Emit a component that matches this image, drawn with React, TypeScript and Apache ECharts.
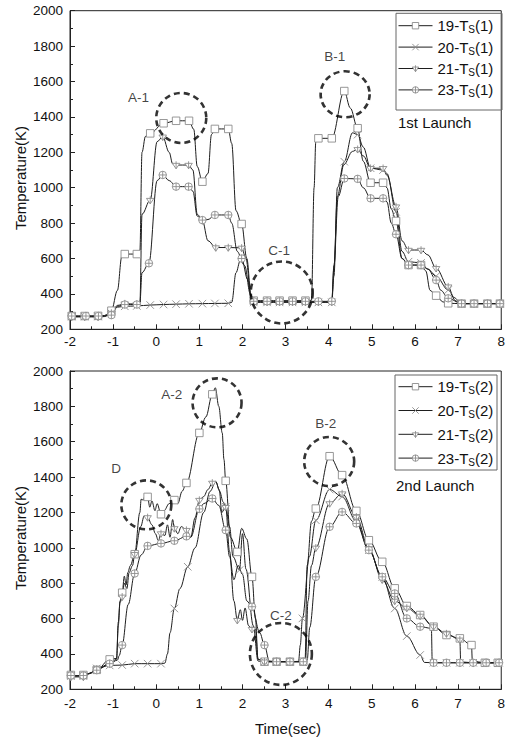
import React, { useEffect, useRef } from 'react';
import * as echarts from 'echarts';

type Pt = [number, number];

const FONT = '"Liberation Sans", Arial, Helvetica, sans-serif';

// ---- x / y axis ticks ----
const X_MIN = -2;
const X_MAX = 8;
const X_STEP = 1;
const Y_MIN = 200;
const Y_MAX = 2000;
const Y_STEP = 200;

// ---- 1st launch: sampled (marked) points and the trace between them ----
const S19_1_MARKS: Pt[] = [[-1.96,275],[-1.66,275],[-1.35,276],[-1.04,305],[-0.73,625],[-0.45,625],[-0.14,1307],[0.17,1364],[0.46,1378],[0.76,1378],[1.07,1034],[1.36,1332],[1.67,1332],[1.98,795],[2.26,362],[2.57,362],[2.86,362],[3.16,362],[3.46,362],[3.76,1279],[4.07,1279],[4.36,1546],[4.67,1336],[4.97,1028],[5.26,1028],[5.56,812],[5.85,563],[6.14,563],[6.49,390],[6.77,347],[7.08,345],[7.37,345],[7.68,345],[7.97,345]];
const S19_1_TRACE: Pt[] = [[-2,275],[-1.2,278],[-0.9,420],[-0.8,610],[-0.38,640],[-0.33,1200],[-0.25,1290],[0.87,1330],[0.95,1120],[1.2,1080],[1.28,1300],[1.75,1250],[1.85,870],[2.1,600],[2.2,390],[3.6,364],[3.66,1000],[3.7,1260],[4.5,1450],[4.8,1150],[5.35,1000],[5.45,880],[5.7,600],[6.25,530],[6.35,420],[6.65,355]];

const S20_1_MARKS: Pt[] = [[-1.96,272],[-1.66,272],[-1.35,272],[-1.04,290],[-0.73,330],[-0.45,332],[-0.14,337],[0.17,340],[0.46,342],[0.76,344],[1.07,345],[1.36,346],[1.67,347],[2.26,352],[2.57,352],[2.86,352],[3.16,352],[3.46,352],[3.76,352],[4.07,352],[4.36,1147],[4.67,1300],[4.97,1110],[5.26,1100],[5.56,864],[5.85,582],[6.14,575],[6.49,500],[6.77,422],[7.08,345],[7.37,345],[7.68,345],[7.97,345]];
const S20_1_TRACE: Pt[] = [[-2,272],[-1.2,275],[-0.9,325],[1.75,352],[1.85,520],[1.95,590],[2.05,560],[2.18,400],[4.12,500],[4.2,1000],[4.55,1310],[4.8,1230],[5.35,1080],[5.7,640],[6.3,540],[6.95,360]];

const S21_1_MARKS: Pt[] = [[-1.96,270],[-1.66,270],[-1.35,270],[-1.04,292],[-0.73,345],[-0.45,342],[-0.14,930],[0.15,1288],[0.46,1128],[0.75,1128],[1.07,815],[1.38,662],[1.67,662],[1.98,660],[2.26,355],[2.57,355],[2.86,355],[3.16,355],[3.46,355],[3.76,355],[4.07,355],[4.67,1217],[4.97,1110],[5.26,1110],[5.56,893],[5.85,648],[6.14,648],[6.49,545],[6.77,441],[7.08,345],[7.37,345],[7.68,345],[7.97,345]];
const S21_1_TRACE: Pt[] = [[-2,270],[-1.2,272],[-0.9,335],[-0.38,345],[-0.33,850],[0.02,1260],[0.3,1200],[0.38,1135],[0.85,1100],[0.95,850],[1.2,700],[2.08,600],[2.2,380],[4.12,550],[4.2,950],[4.35,1130],[4.55,1205],[4.8,1180],[5.35,1070],[5.7,700],[6.3,620],[6.9,380]];

const S23_1_MARKS: Pt[] = [[-1.96,275],[-1.63,275],[-1.34,275],[-1.04,280],[-0.73,340],[-0.45,340],[-0.17,573],[0.15,1072],[0.46,1006],[0.75,1006],[1.07,817],[1.36,846],[1.67,846],[1.98,600],[2.26,358],[2.57,358],[2.86,358],[3.16,358],[3.46,358],[3.76,358],[4.07,358],[4.36,1052],[4.67,1050],[4.97,940],[5.26,940],[5.56,737],[5.85,563],[6.14,563],[6.49,478],[6.77,375],[7.08,345],[7.37,345],[7.68,345],[7.97,345]];
const S23_1_TRACE: Pt[] = [[-2,275],[-1.2,276],[-0.9,330],[-0.38,345],[-0.33,520],[0.02,1040],[0.3,1040],[0.85,980],[0.95,840],[1.2,820],[1.75,800],[1.88,640],[2.12,480],[2.2,380],[4.12,560],[4.22,950],[4.8,1000],[5.35,920],[5.45,800],[5.7,600],[6.3,540],[6.6,420]];

// ---- 2nd launch ----
const S19_2_MARKS: Pt[] = [[-1.98,281],[-1.69,281],[-1.38,310],[-1.08,369],[-0.79,746],[-0.5,964],[-0.2,1288],[0.11,1190],[0.42,1270],[0.7,1367],[1.0,1650],[1.3,1868],[1.61,1379],[1.88,977],[2.22,836],[2.51,356],[2.79,356],[3.1,356],[3.41,356],[3.7,1222],[4.02,1518],[4.31,1411],[4.64,1209],[4.93,1043],[5.24,921],[5.53,771],[5.81,671],[6.12,620],[6.43,554],[6.73,507],[7.04,488],[7.31,450],[7.62,350],[7.92,350]];
const S19_2_TRACE: Pt[] = [[-2,276],[-1.85,275],[-1.55,290],[-0.92,375],[-0.88,560],[-0.84,700],[-0.74,840],[-0.7,790],[-0.66,860],[-0.6,900],[-0.38,1200],[-0.35,1275],[-0.3,1270],[-0.26,1295],[-0.15,1230],[-0.1,1265],[-0.03,1210],[0.02,1250],[0.18,1210],[0.3,1250],[0.5,1250],[0.6,1320],[1.15,1740],[1.37,1905],[1.45,1800],[1.53,1650],[1.57,1500],[1.72,1060],[1.98,1110],[2.1,1050],[2.3,600],[2.36,370],[3.45,360],[3.5,900],[3.6,1150],[7.33,360]];

const S20_2_MARKS: Pt[] = [[-1.98,275],[-1.69,275],[-1.38,318],[-1.08,335],[-0.79,337],[-0.5,345],[-0.2,345],[0.11,345],[0.42,657],[0.73,893],[1.61,1232],[1.93,874],[2.51,356],[2.79,356],[3.1,356],[3.39,601],[3.7,1156],[4.02,1330],[4.31,1290],[4.64,1150],[4.93,987],[5.24,836],[5.53,657],[5.81,501],[6.12,394],[6.43,350],[6.73,350],[7.04,350],[7.35,350],[7.65,350],[7.95,350]];
const S20_2_TRACE: Pt[] = [[-2,275],[-1.55,290],[0.2,348],[0.26,400],[0.32,520],[0.55,770],[0.9,1000],[1.1,1200],[1.25,1320],[1.38,1375],[1.46,1330],[1.52,1200],[1.7,1120],[1.78,950],[2.0,1080],[2.08,880],[2.25,560],[2.36,360],[3.3,358],[3.34,450],[3.55,950],[6.22,352]];

const S21_2_MARKS: Pt[] = [[-1.98,270],[-1.69,270],[-1.38,315],[-1.08,345],[-0.79,723],[-0.5,964],[-0.2,1172],[0.11,1081],[0.42,1110],[0.7,1100],[1.0,1270],[1.3,1367],[1.61,1230],[1.88,591],[2.22,540],[2.51,356],[2.79,356],[3.1,356],[3.41,356],[3.7,1000],[4.02,1251],[4.31,1307],[4.64,1175],[4.93,997],[5.24,820],[5.53,700],[5.81,660],[6.12,615],[6.43,555],[6.73,515],[7.04,480],[7.35,350],[7.65,350],[7.95,350]];
const S21_2_TRACE: Pt[] = [[-2,270],[-1.55,288],[-0.92,370],[-0.88,580],[-0.84,690],[-0.74,800],[-0.68,770],[-0.63,860],[-0.55,900],[-0.36,1120],[-0.28,1180],[-0.1,1130],[-0.02,1080],[0.05,1040],[0.2,1070],[0.26,1130],[0.32,1060],[0.38,1160],[0.5,1080],[0.58,1120],[0.8,1060],[0.9,1170],[1.1,1290],[1.2,1330],[1.38,1375],[1.47,1320],[1.55,1260],[1.7,980],[1.8,700],[1.95,650],[2.0,590],[2.06,660],[2.14,560],[2.3,540],[2.36,370],[3.46,360],[3.52,700],[3.6,900],[7.06,355]];

const S23_2_MARKS: Pt[] = [[-1.98,278],[-1.69,278],[-1.38,308],[-1.08,345],[-0.79,450],[-0.5,855],[-0.2,1011],[0.11,1025],[0.42,1040],[0.7,1065],[1.0,1220],[1.3,1279],[1.61,1100],[2.22,667],[2.51,450],[2.79,356],[3.1,356],[3.41,356],[3.7,836],[4.02,1119],[4.31,1203],[4.64,1138],[4.93,987],[5.24,836],[5.53,742],[5.81,601],[6.12,554],[6.43,350],[6.73,350],[7.04,350],[7.35,350],[7.65,350],[7.95,350]];
const S23_2_TRACE: Pt[] = [[-2,278],[-1.55,290],[-0.9,365],[-0.86,390],[-0.65,680],[-0.35,960],[0.8,1060],[1.1,1250],[1.45,1240],[1.7,950],[1.8,820],[1.9,900],[2.0,850],[2.1,700],[2.4,520],[2.62,360],[3.5,365],[3.56,550],[6.38,545],[6.4,355]];

// ---- series names and highlighted regions ----
const NAMES_1 = ['19-TS(1)', '20-TS(1)', '21-TS(1)', '23-TS(1)'];
const NAMES_2 = ['19-TS(2)', '20-TS(2)', '21-TS(2)', '23-TS(2)'];
const REGION_LABELS_1 = ['A-1', 'B-1', 'C-1'];
const REGION_CENTRES_1: Pt[] = [[0.58, 1394], [4.38, 1528], [2.91, 408]];
const REGION_LABEL_AT_1: Pt[] = [[-0.41, 1511], [4.14, 1740], [2.85, 648]];
const REGION_LABELS_2 = ['D', 'A-2', 'B-2', 'C-2'];
const REGION_CENTRES_2: Pt[] = [[-0.23, 1243], [1.41, 1820], [4.01, 1488], [2.89, 400]];
const REGION_LABEL_AT_2: Pt[] = [[-0.93, 1449], [0.36, 1867], [3.93, 1703], [2.89, 620]];

const CIRCLE_PX: Record<string, number[]> = {
  'A-1': [50, 50], 'B-1': [49, 46], 'C-1': [62, 62],
  'D': [50, 49], 'A-2': [49, 49], 'B-2': [50, 49], 'C-2': [62, 62],
};

const SYMBOLS = [
  'rect',
  'path://M0,0L10,10M10,0L0,10',
  'path://M0,3L10,3L5,11ZM5,0L5,11',
  'path://M10,5A5,5,0,1,1,0,5A5,5,0,1,1,10,5ZM5,0L5,10M0,5L10,5',
];

const LINE_COLOR = '#1e1e1e';
const MARK_STYLE = { color: '#ffffff', borderColor: '#8c8c8c', borderWidth: 0.9 };

function merge(trace: Pt[], marks: Pt[]) {
  const items: any[] = [
    ...trace.map((p) => ({ value: p, symbol: 'none' })),
    ...marks.map((p) => ({ value: p })),
  ];
  items.sort((a, b) => a.value[0] - b.value[0]);
  return items;
}

function lineSeries(name: string, idx: number, grid: number, trace: Pt[], marks: Pt[]) {
  return {
    type: 'line',
    name,
    xAxisIndex: grid,
    yAxisIndex: grid,
    data: merge(trace, marks),
    smooth: 0.35,
    smoothMonotone: 'x',
    symbol: SYMBOLS[idx],
    symbolSize: 7.5,
    showAllSymbol: true,
    lineStyle: { color: LINE_COLOR, width: 1 },
    itemStyle: MARK_STYLE,
    emphasis: { disabled: true },
    z: 3,
  };
}

function regionSeries(grid: number, labels: string[], centres: Pt[], labelAt: Pt[]) {
  return [
    {
      type: 'scatter',
      xAxisIndex: grid,
      yAxisIndex: grid,
      symbol: 'circle',
      silent: true,
      data: centres.map((c, i) => ({ value: c, symbolSize: CIRCLE_PX[labels[i]] })),
      itemStyle: { color: 'rgba(0,0,0,0)', borderColor: '#000', borderWidth: 2.6, borderType: [6, 4] },
      z: 6,
    },
    {
      type: 'scatter',
      xAxisIndex: grid,
      yAxisIndex: grid,
      symbolSize: 1,
      silent: true,
      data: labelAt.map((c, i) => ({ name: labels[i], value: c })),
      itemStyle: { color: 'rgba(0,0,0,0)' },
      label: {
        show: true,
        position: 'inside',
        formatter: '{b}',
        fontFamily: FONT,
        fontSize: 13.5,
        color: '#111',
      },
      z: 6,
    },
  ];
}

const plain = (v: number) => String(v);

function xAxis(grid: number, margin: number) {
  return {
    type: 'value',
    gridIndex: grid,
    min: X_MIN,
    max: X_MAX,
    interval: X_STEP,
    axisLine: { onZero: false, lineStyle: { color: '#222', width: 1 } },
    axisTick: { inside: true, length: 5, lineStyle: { color: '#222' } },
    minorTick: { show: true, splitNumber: 2, length: 3, lineStyle: { color: '#222' } },
    splitLine: { show: false },
    axisLabel: { fontFamily: FONT, fontSize: 13.5, color: '#111', margin, formatter: plain },
  };
}

function yAxis(grid: number) {
  return {
    type: 'value',
    gridIndex: grid,
    min: Y_MIN,
    max: Y_MAX,
    interval: Y_STEP,
    axisLine: { show: true, onZero: false, lineStyle: { color: '#222', width: 1 } },
    axisTick: { inside: true, length: 5, lineStyle: { color: '#222' } },
    minorTick: { show: true, splitNumber: 2, length: 3, lineStyle: { color: '#222' } },
    splitLine: { show: false },
    axisLabel: { fontFamily: FONT, fontSize: 13.5, color: '#111', margin: 7, formatter: plain },
  };
}

function legend(names: string[], top: number, gap: number) {
  return {
    data: names,
    orient: 'vertical',
    left: 398,
    top,
    padding: 0,
    itemGap: gap,
    itemWidth: 34,
    itemHeight: 8,
    selectedMode: false,
    itemStyle: MARK_STYLE,
    lineStyle: { color: LINE_COLOR, width: 1 },
    formatter: (n: string) => n.replace('-TS', '-T{s|S}'),
    textStyle: {
      fontFamily: FONT,
      fontSize: 15,
      color: '#111',
      lineHeight: 18,
      rich: {
        s: { fontFamily: FONT, fontSize: 10, color: '#111', lineHeight: 10, verticalAlign: 'bottom' },
      },
    },
  };
}

export default function App() {
  const ref = useRef<HTMLDivElement>(null);

  useEffect(() => {
    document.body.style.margin = '0';
    if (!ref.current) return;
    const chart = echarts.init(ref.current, undefined, { renderer: 'svg' });

    const traces1 = [S19_1_TRACE, S20_1_TRACE, S21_1_TRACE, S23_1_TRACE];
    const marks1 = [S19_1_MARKS, S20_1_MARKS, S21_1_MARKS, S23_1_MARKS];
    const traces2 = [S19_2_TRACE, S20_2_TRACE, S21_2_TRACE, S23_2_TRACE];
    const marks2 = [S19_2_MARKS, S20_2_MARKS, S21_2_MARKS, S23_2_MARKS];

    const textStyle = { fontFamily: FONT, fontSize: 15, fill: '#111' };

    chart.setOption({
      animation: false,
      backgroundColor: '#ffffff',
      grid: [
        { left: 70, top: 10.7, width: 434, height: 318.6, show: true, borderColor: '#222', borderWidth: 1 },
        { left: 70, top: 371, width: 434, height: 318.3, show: true, borderColor: '#222', borderWidth: 1 },
      ],
      xAxis: [xAxis(0, 5), xAxis(1, 7)],
      yAxis: [yAxis(0), yAxis(1)],
      legend: [legend(NAMES_1, 16.7, 3.4), legend(NAMES_2, 377.7, 5.8)],
      series: [
        ...NAMES_1.map((n, i) => lineSeries(n, i, 0, traces1[i], marks1[i])),
        ...NAMES_2.map((n, i) => lineSeries(n, i, 1, traces2[i], marks2[i])),
        ...regionSeries(0, REGION_LABELS_1, REGION_CENTRES_1, REGION_LABEL_AT_1),
        ...regionSeries(1, REGION_LABELS_2, REGION_CENTRES_2, REGION_LABEL_AT_2),
      ],
      graphic: [
        { type: 'rect', shape: { x: 396, y: 13.3, width: 106, height: 96.7 }, style: { fill: 'none', stroke: '#666', lineWidth: 1 }, z: 10 },
        { type: 'rect', shape: { x: 395, y: 375, width: 102, height: 95 }, style: { fill: 'none', stroke: '#666', lineWidth: 1 }, z: 10 },
        { type: 'text', x: 398, y: 122.7, style: { ...textStyle, text: '1st Launch', textVerticalAlign: 'middle' } },
        { type: 'text', x: 396, y: 485, style: { ...textStyle, text: '2nd Launch', textVerticalAlign: 'middle' } },
        { type: 'text', x: 20, y: 178, rotation: Math.PI / 2, style: { ...textStyle, text: 'Temperature(K)', textAlign: 'center', textVerticalAlign: 'middle' } },
        { type: 'text', x: 20, y: 538, rotation: Math.PI / 2, style: { ...textStyle, text: 'Temperature(K)', textAlign: 'center', textVerticalAlign: 'middle' } },
        { type: 'text', x: 288, y: 728, style: { ...textStyle, text: 'Time(sec)', textAlign: 'center', textVerticalAlign: 'middle' } },
      ],
    });

    return () => chart.dispose();
  }, []);

  return <div ref={ref} style={{ width: 508, height: 739 }} />;
}
